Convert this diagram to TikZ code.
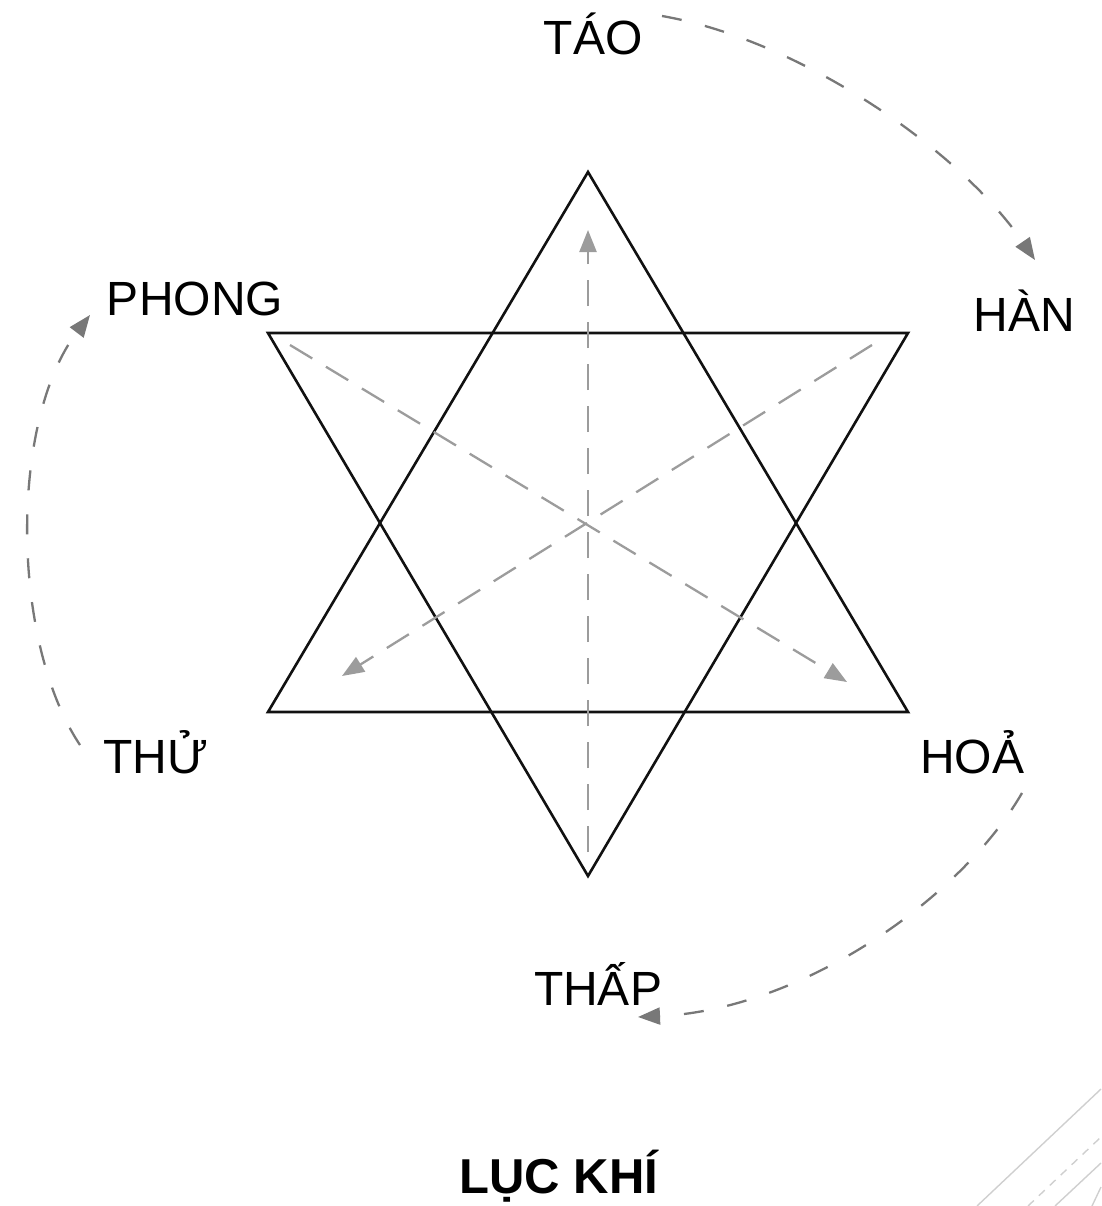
\documentclass[tikz,border=0pt]{standalone}
\usepackage{fontspec}
\setmainfont{Liberation Sans}
\usetikzlibrary{arrows.meta}
\definecolor{starline}{HTML}{111111}
\definecolor{flowgray}{HTML}{9C9C9C}
\definecolor{turngray}{HTML}{787878}
\definecolor{decogray}{HTML}{CFCFCF}
\tikzset{
  qilbl/.style    = {font=\fontsize{48}{50}\selectfont, anchor=base, inner sep=0pt},
  titlelbl/.style = {font=\fontsize{49}{52}\selectfont\bfseries, anchor=base, inner sep=0pt},
  starside/.style = {draw=starline, line width=2.6pt, line join=miter},
  inflow/.style   = {-{Triangle[length=22pt,width=17pt]}, draw=flowgray,
                     line width=2.3pt, dash pattern=on 26pt off 16pt},
  turnflow/.style = {-{Triangle[length=22pt,width=17pt]}, draw=turngray,
                     line width=2.3pt, dash pattern=on 20pt off 24pt},
  deco/.style     = {draw=decogray, line width=1.4pt},
}

\begin{document}
\begin{tikzpicture}[x=1pt, y=-1pt]
    \useasboundingbox (0,0) rectangle (1101,1206);
    % six qi labels
    \node[qilbl] (tao)   at (593,55)   {TÁO};
    \node[qilbl] (han)   at (1024,331) {HÀN};
    \node[qilbl] (phong) at (195,315)  {PHONG};
    \node[qilbl] (thu)   at (156,773)  {THỬ};
    \node[qilbl] (hoa)   at (972,773)  {HOẢ};
    \node[qilbl] (thap)  at (598,1005) {THẤP};
    \node[titlelbl] (title) at (559,1193) {LỤC KHÍ};

    % star corners
    \coordinate (tA) at (588,172);
    \coordinate (tL) at (268,712);
    \coordinate (tR) at (908,712);
    \coordinate (dL) at (268,333);
    \coordinate (dR) at (908,333);
    \coordinate (dB) at (588,876);
    \draw[starside] (tA) -- (tR) -- (tL) -- cycle;
    \draw[starside] (dL) -- (dR) -- (dB) -- cycle;

    % inner flows
    \coordinate (vfoot) at (588,852);
    \coordinate (vhead) at (588,230);
    \coordinate (d1s) at (290,345);
    \coordinate (d1e) at (847,682);
    \coordinate (d2s) at (872,345);
    \coordinate (d2e) at (342,676);
    \draw[inflow] (vfoot) -- (vhead);
    \draw[inflow] (d1s) -- (d1e);
    \draw[inflow] (d2s) -- (d2e);

    % outer turns
    \coordinate (taoout) at (662,16);
    \coordinate (hanin)  at (1035,260);
    \coordinate (thuout) at (80,745);
    \coordinate (phongin) at (90,315);
    \coordinate (hoaout) at (1022,793);
    \coordinate (thapin) at (638,1017);
    \draw[turnflow] (taoout) .. controls (800,40) and (960,150) .. (hanin);
    \draw[turnflow] (thuout) .. controls (10,640) and (10,420) .. (phongin);
    \draw[turnflow] (hoaout) .. controls (960,900) and (800,1010) .. (thapin);

    % corner decoration
    \draw[deco] (977,1206) -- (1101,1089);
    \draw[deco, dash pattern=on 8pt off 7pt] (1028,1206) -- (1101,1137);
    \draw[deco] (1055,1206) -- (1101,1163);
    \draw[deco] (1092,1206) -- (1101,1187);
\end{tikzpicture}
\end{document}
